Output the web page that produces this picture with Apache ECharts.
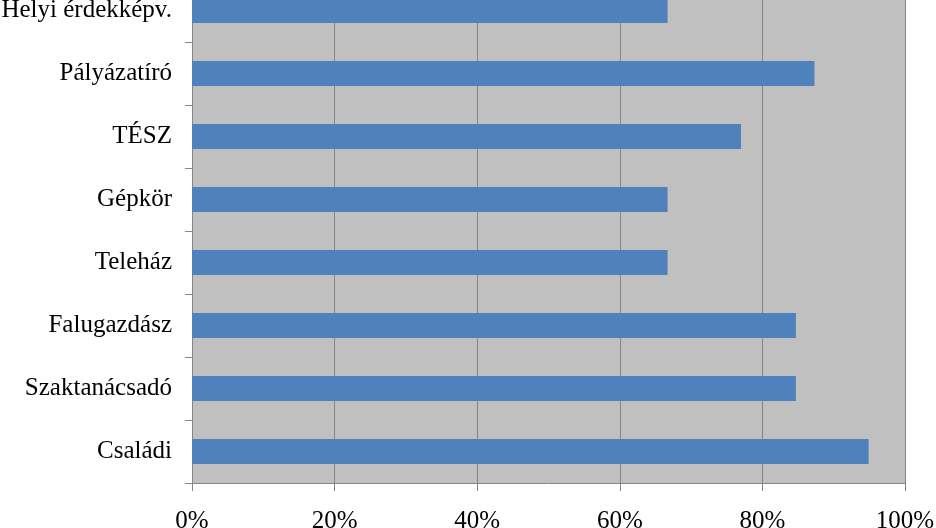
<!DOCTYPE html>
<html>
<head>
<meta charset="utf-8">
<script src="https://cdn.jsdelivr.net/npm/echarts@6/dist/echarts.min.js"></script>
<style>html,body{margin:0;padding:0;background:#fff;overflow:hidden}#c{width:936px;height:549px;margin-top:-21px}</style>
</head>
<body>
<div id="c"></div>
<script>
const categories = ['Családi', 'Szaktanácsadó', 'Falugazdász', 'Teleház', 'Gépkör', 'TÉSZ', 'Pályázatíró', 'Helyi érdekképv.'];
const values = [94.9, 84.7, 84.7, 66.7, 66.7, 77.0, 87.3, 66.7];
const xTicks = [0, 20, 40, 60, 80, 100];

const chart = echarts.init(document.getElementById('c'), null, {renderer: 'canvas'});
const font = '"Liberation Serif", "Times New Roman", serif';
chart.setOption({
  animation: false,
  grid: {left: 192, right: 31, top: 0, bottom: 45, containLabel: false, outerBoundsMode: 'none', show: true, backgroundColor: '#C0C0C0', borderWidth: 0},
  xAxis: {
    type: 'value', min: xTicks[0], max: xTicks[xTicks.length - 1], interval: 20,
    axisLine: {show: true, lineStyle: {color: '#868686', width: 1}},
    axisTick: {show: true, length: 8, lineStyle: {color: '#868686'}},
    splitLine: {show: true, lineStyle: {color: '#868686', width: 1}},
    axisLabel: {formatter: v => v + '%', fontFamily: font, fontSize: 25, color: '#000', margin: 26}
  },
  yAxis: {
    type: 'category', data: categories,
    axisLine: {show: true, lineStyle: {color: '#868686', width: 1}},
    axisTick: {show: true, length: 7, lineStyle: {color: '#868686'}},
    axisLabel: {fontFamily: font, fontSize: 25, color: '#000', margin: 20}
  },
  series: [{
    type: 'bar', data: values, barWidth: '40%',
    itemStyle: {color: '#4F81BD'}
  }]
});
</script>
</body>
</html>
